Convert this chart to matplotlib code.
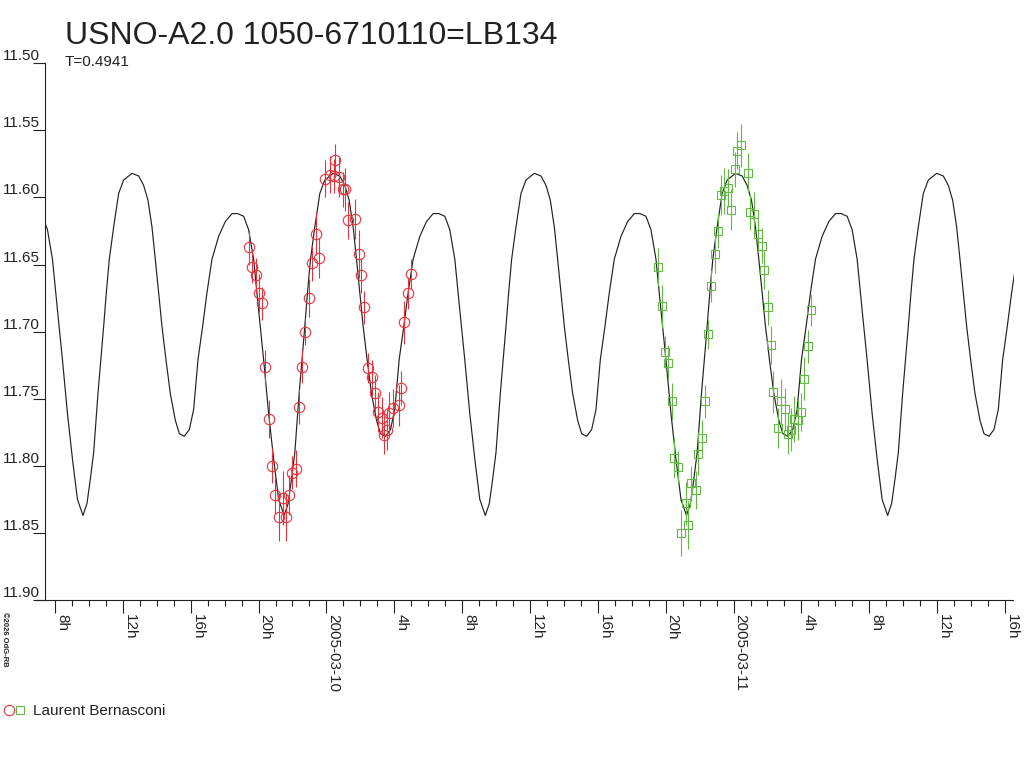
import matplotlib
matplotlib.use("Agg")
import matplotlib.pyplot as plt
import numpy as np
from matplotlib.lines import Line2D
from matplotlib.legend_handler import HandlerTuple

plt.rcParams['font.family'] = ['Liberation Sans', 'DejaVu Sans']

# x = hours since 2005-03-09 00:00 UT, y = magnitude
title = "USNO-A2.0 1050-6710110=LB134"
period_label = "T=0.4941"
observer = "Laurent Bernasconi"
period_days = 0.4941
epoch_min = 9.65  # hour of a deep minimum

# one cycle of the model light curve (hours after deep minimum, mag)
model_dt = [0.000, 0.236, 0.432, 0.629, 0.884, 1.218, 1.375, 1.552, 1.807, 2.102,
            2.397, 2.888, 3.281, 3.576, 3.831, 4.067, 4.263, 4.460, 4.656, 4.892,
            5.147, 5.442, 5.678, 5.972, 6.267, 6.523, 6.778, 7.053, 7.308, 7.603,
            7.996, 8.389, 8.782, 9.116, 9.470, 9.764, 10.059, 10.354, 10.648, 10.943,
            11.238, 11.532]
model_mag = [11.837, 11.828, 11.810, 11.790, 11.746, 11.696, 11.671, 11.646, 11.622, 11.597,
             11.587, 11.582, 11.584, 11.591, 11.602, 11.622, 11.646, 11.671, 11.696, 11.721,
             11.746, 11.766, 11.776, 11.778, 11.773, 11.758, 11.721, 11.696, 11.671, 11.646,
             11.629, 11.618, 11.612, 11.612, 11.614, 11.624, 11.646, 11.684, 11.721, 11.761,
             11.795, 11.825]

# night 1 (red circles)
red_t = [19.436, 19.595, 19.831, 20.043, 20.220, 20.397, 20.597, 20.810, 20.986, 21.222,
         21.423, 21.617, 21.812, 21.953, 22.207, 22.366, 22.578, 22.755, 22.973, 23.167,
         23.368, 23.562, 23.916, 24.211, 24.429, 24.523, 24.741, 24.959, 25.113, 25.290,
         25.702, 25.903, 26.056, 26.233, 26.451, 26.669, 26.864, 27.058, 27.259, 27.412,
         27.553, 27.706, 27.942, 28.278, 28.414, 28.590, 28.826, 29.003]
red_mag = [11.637, 11.652, 11.658, 11.671, 11.679, 11.726, 11.765, 11.800, 11.822, 11.838,
           11.824, 11.838, 11.822, 11.805, 11.802, 11.756, 11.726, 11.700, 11.675, 11.649,
           11.627, 11.645, 11.586, 11.583, 11.584, 11.572, 11.585, 11.594, 11.594, 11.617,
           11.616, 11.642, 11.658, 11.682, 11.727, 11.734, 11.746, 11.760, 11.764, 11.777,
           11.773, 11.761, 11.757, 11.755, 11.742, 11.693, 11.671, 11.657]
red_err = [0.013, 0.012, 0.013, 0.014, 0.012, 0.012, 0.014, 0.013, 0.014, 0.018,
           0.020, 0.018, 0.015, 0.012, 0.014, 0.013, 0.012, 0.010, 0.014, 0.013,
           0.016, 0.015, 0.014, 0.014, 0.013, 0.012, 0.015, 0.013, 0.016, 0.014,
           0.015, 0.018, 0.013, 0.012, 0.011, 0.013, 0.014, 0.015, 0.015, 0.014,
           0.015, 0.016, 0.014, 0.015, 0.013, 0.016, 0.012, 0.011]

# night 2 (green squares)
green_t = [43.564, 43.782, 43.959, 44.136, 44.371, 44.518, 44.742, 44.919, 45.178, 45.314,
           45.520, 45.768, 45.886, 46.122, 46.317, 46.493, 46.670, 46.906, 47.065, 47.242,
           47.436, 47.690, 47.831, 48.067, 48.220, 48.421, 48.833, 48.987, 49.222, 49.423,
           49.658, 49.776, 50.012, 50.207, 50.342, 50.602, 50.814, 51.014, 51.191, 51.368,
           51.562, 51.816, 51.993, 52.152, 52.370, 52.547]
green_mag = [11.652, 11.681, 11.715, 11.723, 11.752, 11.794, 11.801, 11.850, 11.828, 11.844,
             11.813, 11.818, 11.791, 11.779, 11.752, 11.702, 11.666, 11.642, 11.625, 11.598,
             11.595, 11.593, 11.609, 11.579, 11.565, 11.561, 11.582, 11.611, 11.612, 11.627,
             11.636, 11.654, 11.682, 11.710, 11.745, 11.772, 11.752, 11.758, 11.776, 11.773,
             11.765, 11.766, 11.760, 11.735, 11.711, 11.684]
green_err = [0.014, 0.016, 0.012, 0.013, 0.014, 0.015, 0.012, 0.017, 0.016, 0.018,
             0.013, 0.014, 0.016, 0.013, 0.012, 0.011, 0.012, 0.014, 0.013, 0.015,
             0.017, 0.014, 0.015, 0.013, 0.014, 0.016, 0.015, 0.013, 0.016, 0.014,
             0.013, 0.014, 0.013, 0.014, 0.016, 0.015, 0.017, 0.016, 0.015, 0.016,
             0.017, 0.015, 0.014, 0.016, 0.012, 0.012]

major_hours = [8, 12, 16, 20, 24, 28, 32, 36, 40, 44, 48, 52, 56, 60, 64]
major_labels = ["8h", "12h", "16h", "20h", "2005-03-10", "4h", "8h", "12h", "16h",
                "20h", "2005-03-11", "4h", "8h", "12h", "16h"]
mag_ticks = [11.50, 11.55, 11.60, 11.65, 11.70, 11.75, 11.80, 11.85, 11.90]

ink = '#222222'
red = '#e8323c'
green = '#64b946'
W, H = 1024, 768

fig = plt.figure(figsize=(W / 100, H / 100), dpi=100)
ax = fig.add_axes([45 / W, (H - 600) / H, (1014 - 45) / W, (600 - 63.3) / H])

# tile the model cycle over the whole span
P = period_days * 24
mt, mm = [], []
for k in range(-1, 6):
    mt.extend(epoch_min + k * P + np.array(model_dt))
    mm.extend(model_mag)
ax.plot(mt, mm, color=ink, lw=0.85, zorder=2)

ax.errorbar(red_t, red_mag, yerr=red_err, fmt='o', ms=7.5, mfc='none', mec=red,
            mew=0.8, ecolor=red, elinewidth=0.8, capsize=0, zorder=3)
ax.errorbar(green_t, green_mag, yerr=green_err, fmt='s', ms=5.8, mfc='none', mec=green,
            mew=0.8, ecolor=green, elinewidth=0.8, capsize=0, zorder=3)

ax.set_xlim(8 + (45 - 55) / 16.964, 8 + (1014 - 55) / 16.964)
ax.set_ylim(11.90, 11.50)

for s in ['top', 'right']:
    ax.spines[s].set_visible(False)
for s in ['left', 'bottom']:
    ax.spines[s].set_color(ink)
    ax.spines[s].set_linewidth(0.8)
ax.spines['bottom'].set_bounds(8 + (36 - 55) / 16.964, 8 + (1013 - 55) / 16.964)

ax.set_xticks(major_hours)
ax.set_xticklabels(major_labels, rotation=270, ha='left', va='top')
ax.set_xticks([h for h in range(9, 64) if h % 4 != 0], minor=True)
ax.tick_params(axis='x', which='major', length=9.5, width=0.8, color=ink,
               labelcolor=ink, labelsize=11, pad=0.5)
ax.tick_params(axis='x', which='minor', length=4.5, width=0.8, color=ink)

ax.set_yticks(mag_ticks)
ax.set_yticklabels([f"{v:.2f}" for v in mag_ticks])
ax.tick_params(axis='y', length=8.6, width=0.8, color=ink, labelcolor=ink,
               labelsize=11, pad=-5.0)
plt.setp(ax.get_yticklabels(), va='bottom')

fig.text(65 / W, 1 - 44 / H, title, fontsize=23, color=ink, va='baseline')
fig.text(65 / W, 1 - 66 / H, period_label, fontsize=11, color=ink, va='baseline')
fig.text(1 / W, 1 - 612 / H, "\u00a92026 OdG-RB", fontsize=5.5, fontweight='bold',
         color=ink, rotation=270, ha='left', va='top')

h_red = Line2D([], [], ls='none', marker='o', ms=7.5, mfc='none', mec=red, mew=0.8)
h_green = Line2D([], [], ls='none', marker='s', ms=5.8, mfc='none', mec=green, mew=0.8)
fig.legend([(h_red, h_green)], [observer], handler_map={tuple: HandlerTuple(ndivide=None, pad=0.1)},
           loc='center left', bbox_to_anchor=(4 / W, 1 - 711 / H), frameon=False,
           borderpad=0, borderaxespad=0, handlelength=1.4, handletextpad=0.5,
           fontsize=11, labelcolor=ink)

fig.savefig("out.png", dpi=100)
